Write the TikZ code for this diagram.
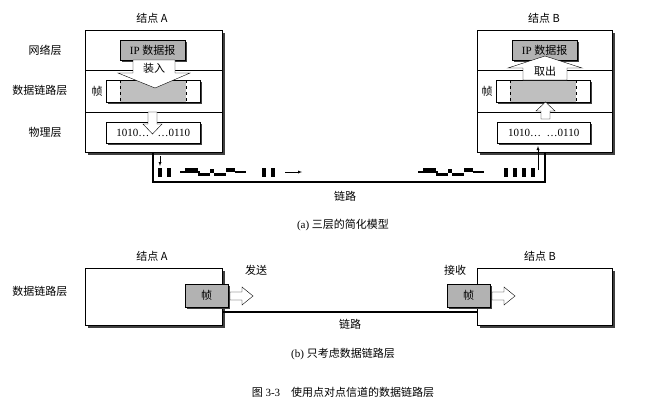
\documentclass[tikz,border=0pt]{standalone}
\usepackage{fontspec}
\setmainfont{Liberation Serif}
\newfontfamily\cjk{Noto Sans CJK SC}
\begin{document}
\begin{tikzpicture}[x=1pt,y=-1pt,font=\fontsize{11}{13}\selectfont,
  box/.style={draw,thick,fill=white},
  shadowbox/.style={draw,line width=0.8pt,fill=white,drop shadow={shadow xshift=2pt,shadow yshift=-2pt,fill=black!70,opacity=1}},
  gray/.style={draw,fill=black!30},
  lbl/.style={inner sep=0pt}]
\useasboundingbox (0,0) rectangle (671,407);
% ---------- (a) ----------
% shadows
\fill[black!75] (88,33) rectangle (225,155);
\fill[black!75] (480,33) rectangle (615,155);
\node[box,minimum width=137pt,minimum height=122pt,anchor=north west,inner sep=0pt] (A) at (85,30) {};
\node[box,minimum width=135pt,minimum height=122pt,anchor=north west,inner sep=0pt] (B) at (477,30) {};
\draw (85,70) -- (222,70) (85,112) -- (222,112);
\draw (477,70) -- (612,70) (477,112) -- (612,112);
\node[lbl] (tA) at (152,18) {\cjk 结点 A};
\node[lbl] (tB) at (544,18) {\cjk 结点 B};
\node[lbl] (l1) at (45,50) {\cjk 网络层};
\node[lbl] (l2) at (40,90) {\cjk 数据链路层};
\node[lbl] (l3) at (45,132) {\cjk 物理层};
% frames
\foreach \n/\x in {fA/106,fB/496}{
  \fill[black!75] (\x+2,82) rectangle (\x+96,104);
  \draw[fill=white] (\x,80) rectangle (\x+94,102);
  \fill[black!25] (\x+14,80) rectangle (\x+80,102);
  \draw[dashed] (\x+14,80) -- (\x+14,102) (\x+80,80) -- (\x+80,102);
  \draw (\x,80) rectangle (\x+94,102);
  \coordinate (\n) at (\x+47,91);
}
\node[lbl] (zA) at (97,91) {\cjk 帧};
\node[lbl] (zB) at (487,91) {\cjk 帧};
% IP boxes
\fill[black!75] (122,42) rectangle (187,62);
\node[gray,minimum width=65pt,minimum height=20pt,anchor=north west,inner sep=0pt] (ipA) at (120,40) {IP {\cjk 数据报}};
\fill[black!75] (514,42) rectangle (579,62);
\node[gray,minimum width=65pt,minimum height=20pt,anchor=north west,inner sep=0pt] (ipB) at (512,40) {IP {\cjk 数据报}};
% 装入 arrow
\draw[fill=white] (133,60) -- (175,60) -- (175,73) -- (190,73) -- (155,88) -- (118,73) -- (133,73) -- cycle;
\node[lbl] (zr) at (154,68) {\cjk 装入};
% 取出 arrow
\draw[fill=white] (523,80) -- (567,80) -- (567,68) -- (582,68) -- (545,56) -- (508,68) -- (523,68) -- cycle;
\node[lbl] (qc) at (545,71) {\cjk 取出};
% physical boxes
\fill[black!75] (108,124) rectangle (202,145);
\node[box,thin,minimum width=94pt,minimum height=21pt,anchor=north west,inner sep=0pt] (pA) at (106,122) {1010\dots\ \ \ \dots0110};
\fill[black!75] (499,124) rectangle (592,145);
\node[box,thin,minimum width=93pt,minimum height=21pt,anchor=north west,inner sep=0pt] (pB) at (497,122) {1010\dots\ \ \dots0110};
% small arrows
\draw[fill=white] (148,112) -- (157,112) -- (157,124) -- (162,124) -- (152.5,134) -- (143,124) -- (148,124) -- cycle;
\draw[fill=white] (541,119) -- (550,119) -- (550,111) -- (555,111) -- (545.5,102) -- (536,111) -- (541,111) -- cycle;
% link
\coordinate (la) at (153,152);
\coordinate (lb) at (545,152);
\draw[line width=1.2pt] (la) -- (153,182) -- (545,182) -- (lb);
\draw[-latex,thin] (160,156) -- (160,166);
\draw[-latex,thin] (538,170) -- (538,146);
% pulses
\foreach \x in {158,167,262,271,504,513,522,531}{\fill (\x,168) rectangle (\x+4,177);}
\draw[-latex] (285,172) -- (302,172);
\foreach \o in {180,418}{
 \fill (\o,171) rectangle (\o+20,173);
 \fill (\o+5,168) rectangle (\o+18,171);
 \fill (\o+18,173) rectangle (\o+30,176);
 \fill (\o+30,169) rectangle (\o+34,173);
 \fill (\o+34,173) rectangle (\o+46,176);
 \fill (\o+46,168) rectangle (\o+55,172);
 \fill (\o+55,171) rectangle (\o+66,173);
}
\node[lbl] (ll) at (345,196) {\cjk 链路};
\node[lbl] (ca) at (343,225) {(a) {\cjk 三层的简化模型}};
% ---------- (b) ----------
\fill[black!75] (88,271) rectangle (225,328);
\fill[black!75] (480,271) rectangle (615,328);
\node[box,minimum width=137pt,minimum height=57pt,anchor=north west,inner sep=0pt] (bA) at (85,268) {};
\node[box,minimum width=135pt,minimum height=57pt,anchor=north west,inner sep=0pt] (bB) at (477,268) {};
\node[lbl] (btA) at (152,256) {\cjk 结点 A};
\node[lbl] (btB) at (540,256) {\cjk 结点 B};
\node[lbl] (bl) at (40,291) {\cjk 数据链路层};
\fill[black!75] (187,286) rectangle (230,309);
\node[gray,minimum width=43pt,minimum height=23pt,anchor=north west,inner sep=0pt] (bfA) at (185,284) {\cjk 帧};
\fill[black!75] (449,286) rectangle (492,309);
\node[gray,minimum width=43pt,minimum height=23pt,anchor=north west,inner sep=0pt] (bfB) at (447,284) {\cjk 帧};
\foreach \x in {230,492}{
 \draw[fill=white] (\x,292) -- (\x+12,292) -- (\x+12,287) -- (\x+23,296) -- (\x+12,305) -- (\x+12,300) -- (\x,300) -- cycle;}
\node[lbl] (fs) at (256,270) {\cjk 发送};
\node[lbl] (js) at (455,270) {\cjk 接收};
\draw[line width=1.2pt] (bA.east |- 0,312) -- (bB.west |- 0,312);
\node[lbl] (bll) at (350,324) {\cjk 链路};
\node[lbl] (cb) at (343,354) {(b) {\cjk 只考虑数据链路层}};
\node[lbl] (fig) at (343,392) {{\cjk 图} 3-3\quad {\cjk 使用点对点信道的数据链路层}};
\end{tikzpicture}
\end{document}
